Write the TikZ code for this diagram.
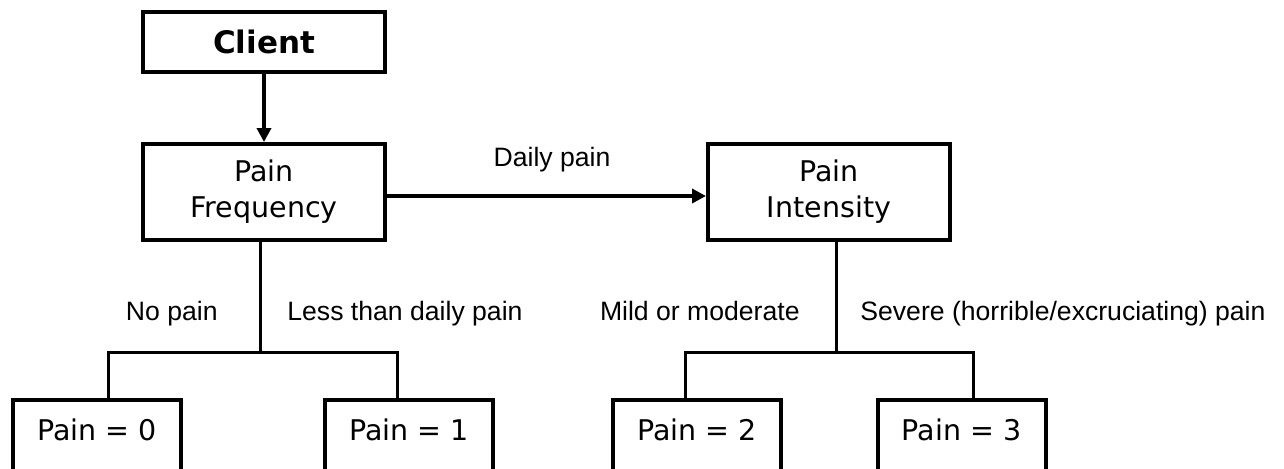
\documentclass[tikz,border=0pt]{standalone}
\usepackage{fontspec}
\setmainfont{DejaVu Sans}
\newfontfamily\labelfont{Liberation Sans}
\usetikzlibrary{arrows.meta}

\tikzset{
  box/.style={draw,line width=2pt,minimum width=121pt,align=center,
    font=\fontsize{14.25}{18}\selectfont},
  leaf/.style={draw,line width=2pt,minimum width=84pt,anchor=north,inner sep=0pt,
    text height=20pt,text depth=50pt,font=\fontsize{14.25}{18}\selectfont},
  tag/.style={inner sep=0pt,font=\labelfont\fontsize{13.3}{16}\selectfont},
  link/.style={line width=1.5pt},
  flow/.style={line width=2pt,-{Triangle[length=7pt,width=7pt]}}
}

\begin{document}
\begin{tikzpicture}[x=0.5pt,y=-0.5pt]
		\useasboundingbox (0,0) rectangle (1284,468);

		\node[box,minimum height=30pt,font=\bfseries\fontsize{15.5}{18}\selectfont] (client) at (264,42) {Client};
		\node[box,minimum height=48pt] (freq) at (264,192) {Pain\\Frequency};
		\node[box,minimum height=48pt] (inten) at (829,192) {Pain\\Intensity};

		\foreach \i/\x in {0/97,1/409,2/697,3/961.5} {
				\node[leaf] (p\i) at (\x,398) {Pain = \i};
			}

		\draw[flow] (client) -- (freq);
		\draw[flow] ([yshift=-2pt]freq.east) -- ([yshift=-2pt]inten.west);
		\node[tag,anchor=base] (daily) at (552,166) {Daily pain};

		% frequency branches
		\draw[link] ([xshift=-2pt]freq.south) -- ++(0,-55pt) coordinate (lsplit);
		\draw[link] ([xshift=5.5pt]p0.north) |- (lsplit) -| ([xshift=-6pt]p1.north);
		\node[tag,anchor=base east] (nopain) at (218,320) {No pain};
		\node[tag,anchor=base west] (lesspain) at (287,320) {Less than daily pain};

		% intensity branches
		\draw[link] ([xshift=3.5pt]inten.south) -- ++(0,-55pt) coordinate (rsplit);
		\draw[link] ([xshift=-6pt]p2.north) |- (rsplit) -| ([xshift=5.75pt]p3.north);
		\node[tag,anchor=base east] (mild) at (800,320) {Mild or moderate};
		\node[tag,anchor=base west] (severe) at (860,320) {Severe (horrible/excruciating) pain};
	\end{tikzpicture}
\end{document}
